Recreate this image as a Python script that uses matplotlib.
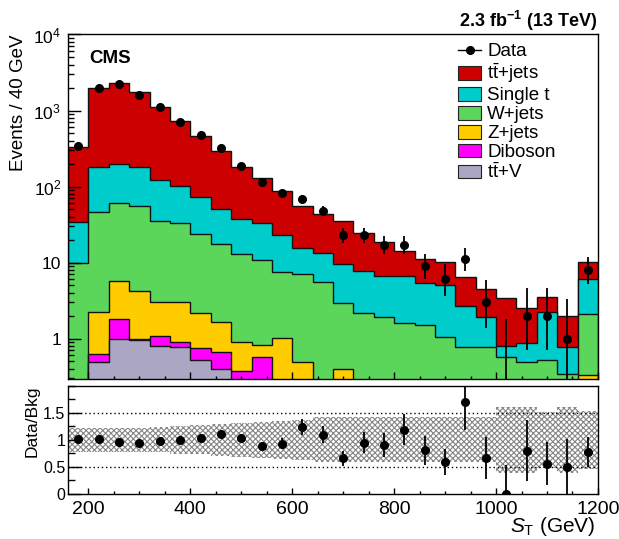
import numpy as np
import matplotlib
matplotlib.use('Agg')
import matplotlib.pyplot as plt
from matplotlib.patches import Patch
from matplotlib.lines import Line2D
from matplotlib.ticker import FixedLocator, MultipleLocator, LogLocator, NullFormatter, FixedFormatter

plt.rcParams['font.family'] = ['Liberation Sans', 'DejaVu Sans']
plt.rcParams['mathtext.fontset'] = 'custom'
plt.rcParams['mathtext.rm'] = 'Liberation Sans'
plt.rcParams['mathtext.it'] = 'Liberation Sans:italic'
plt.rcParams['mathtext.bf'] = 'Liberation Sans:bold'
plt.rcParams['hatch.linewidth'] = 0.8

# S_T bins, 40 GeV wide from 160 to 1200
edges = np.arange(160, 1201, 40)

# expected events per process
ttv = [0.10, 0.49, 0.98, 0.97, 0.80, 0.785, 0.52, 0.40, 0.20, 0.18, 0.14, 0.12, 0.10,
       0.09, 0.07, 0.06, 0.05, 0.05, 0.04, 0.03, 0.03, 0.02, 0.02, 0.02, 0.01, 0.02]
diboson = [0.04, 0.13, 0.82, 0.03, 0.29, 0.105, 0.24, 0.27, 0.17, 0.39, 0.04, 0.04, 0.03,
           0.03, 0.02, 0.02, 0.02, 0.02, 0.01, 0.01, 0.01, 0.01, 0.01, 0.01, 0.01, 0.01]
zjets = [0.10, 1.65, 3.94, 3.24, 1.92, 2.12, 1.40, 1.00, 0.54, 0.26, 0.85, 0.33, 0.10,
         0.28, 0.10, 0.10, 0.10, 0.10, 0.10, 0.10, 0.10, 0.10, 0.10, 0.10, 0.10, 0.30]
wjets = [9.6, 43.7, 55.9, 52.0, 32.7, 30.6, 21.7, 15.9, 12.2, 10.1, 6.6, 6.57, 5.29,
         2.52, 2.01, 1.77, 1.43, 1.36, 0.91, 0.63, 0.63, 0.45, 0.36, 0.39, 0.22, 1.80]
singlet = [24.2, 134, 137, 124, 86, 69, 49, 32.4, 24.1, 22.6, 15.1, 8.4, 8.0,
           6.8, 5.65, 4.73, 4.98, 3.83, 3.95, 1.9, 1.13, 0.21, 0.38, 1.75, 0.44, 3.87]
ttjets = [302, 1785, 2091, 1550, 1006, 622, 393, 242, 146, 98, 66, 39.8, 30.3,
          25.1, 16.4, 12.0, 7.8, 5.84, 5.2, 3.83, 2.59, 2.61, 1.63, 1.30, 1.20, 4.3]

data = [343, 1980, 2200, 1620, 1100, 717, 483, 324, 188, 116, 82, 68, 48,
        23, 23, 17, 17, 9, 6, 11, 3, 0, 2, 2, 1, 8]

# relative background uncertainty (hatched band in the ratio)
bkg_unc = [0.22, 0.22, 0.22, 0.22, 0.23, 0.255, 0.27, 0.29, 0.31, 0.335, 0.355, 0.375, 0.415,
           0.415, 0.415, 0.415, 0.415, 0.415, 0.415, 0.415, 0.415, 0.615, 0.615, 0.52, 0.605, 0.53]

labels = ['$\\mathrm{t}\\bar{\\mathrm{t}}$+V', 'Diboson', 'Z+jets', 'W+jets', 'Single t',
          '$\\mathrm{t}\\bar{\\mathrm{t}}$+jets']
colors = ['#aaa6c4', '#ff00ff', '#ffcc00', '#5cd65a', '#00cccc', '#cc0000']

stack = np.array([ttv, diboson, zjets, wjets, singlet, ttjets])
cum = np.cumsum(stack, axis=0)
total = cum[-1]
data = np.array(data, dtype=float)
centers = 0.5 * (edges[:-1] + edges[1:])

# Garwood-like Poisson intervals (Wilson-Hilferty approximation)
n = data
err_lo = np.where(n > 0, n - n * (1 - 1 / (9 * np.maximum(n, 1)) - 1 / (3 * np.sqrt(np.maximum(n, 1)))) ** 3, 0)
err_hi = (n + 1) * (1 - 1 / (9 * (n + 1)) + 1 / (3 * np.sqrt(n + 1))) ** 3 - n

fig = plt.figure(figsize=(6.19, 5.39), dpi=100)
ax = fig.add_axes([0.110, 0.297, 0.856, 0.639])
rax = fig.add_axes([0.110, 0.0835, 0.856, 0.201])

# stacked histogram, drawn from the top layer down
for i in reversed(range(len(stack))):
    ax.stairs(cum[i], edges, baseline=1e-3, fill=True, facecolor=colors[i],
              edgecolor='#111111', linewidth=1.0)

mask = data > 0
ax.errorbar(centers[mask], data[mask], yerr=[err_lo[mask], err_hi[mask]], fmt='o',
            color='k', ms=5.5, elinewidth=1.3, capsize=0, zorder=5)
# empty bin: only the upper error bar
ax.vlines(centers[~mask], 1e-3, err_hi[~mask], color='k', lw=1.3, zorder=5)

ax.set_yscale('log')
ax.set_xlim(160, 1200)
ax.set_ylim(0.295, 1e4)
ax.yaxis.set_major_locator(FixedLocator([1, 10, 100, 1000, 10000]))
ax.yaxis.set_major_formatter(FixedFormatter(['1', '10', '$10^{2}$', '$10^{3}$', '$10^{4}$']))
ax.yaxis.set_minor_locator(LogLocator(base=10, subs=np.arange(2, 10)))
ax.yaxis.set_minor_formatter(NullFormatter())
ax.xaxis.set_major_locator(MultipleLocator(200))
ax.xaxis.set_minor_locator(MultipleLocator(50))
ax.tick_params(axis='x', labelbottom=False)
ax.tick_params(axis='y', which='major', direction='in', length=9.5, width=1, labelsize=12.5, pad=5)
ax.tick_params(axis='y', which='minor', direction='in', length=4.5, width=1)
ax.tick_params(axis='x', which='major', direction='in', length=5, width=1)
ax.tick_params(axis='x', which='minor', direction='in', length=2.5, width=1)
for s in ax.spines.values():
    s.set_linewidth(1.0)

# legend
handles = [Line2D([], [], color='k', marker='o', ms=5.5, lw=1.0)]
names = ['Data']
for i in reversed(range(len(stack))):
    handles.append(Patch(facecolor=colors[i], edgecolor='#222222', linewidth=0.8))
    names.append(labels[i])
ax.legend(handles, names, loc='upper left', bbox_to_anchor=(458 / 619, 1 - 43 / 539),
          bbox_transform=fig.transFigure, frameon=False, fontsize=13.5,
          handlelength=1.25, handleheight=0.75, handletextpad=0.3, labelspacing=0.08,
          borderpad=0, borderaxespad=0)

ax.text(0.04, 0.93, 'CMS', transform=ax.transAxes, fontsize=13.5, fontweight='bold',
        ha='left', va='center')
fig.text(597 / 619, 1 - 21 / 539, '2.3 fb$^{\\mathbf{-1}}$ (13 TeV)', fontsize=13,
         fontweight='bold', ha='right', va='center')
fig.text(19 / 619, 1 - 103 / 539, 'Events / 40 GeV', rotation=90, fontsize=13.5,
         ha='center', va='center')

# ratio panel
ratio = data / total
r_lo = np.sqrt(data) / total
r_hi = np.where(data > 0, np.sqrt(data), err_hi) / total
unc = np.array(bkg_unc)
rax.bar(centers, 2 * unc, bottom=1 - unc, width=40, facecolor='none',
        edgecolor='#858585', hatch='xxxxxx', linewidth=0)
rax.axhline(0.5, color='k', ls=(0, (1, 2)), lw=1.0)
rax.axhline(1.5, color='k', ls=(0, (1, 2)), lw=1.0)
rax.errorbar(centers, ratio, yerr=[r_lo, r_hi], fmt='o', color='k', ms=5.5,
             elinewidth=1.3, capsize=0, zorder=5)
rax.set_xlim(160, 1200)
rax.set_ylim(0, 2)
rax.yaxis.set_major_locator(FixedLocator([0, 0.5, 1, 1.5]))
rax.yaxis.set_major_formatter(FixedFormatter(['0', '0.5', '1', '1.5']))
rax.yaxis.set_minor_locator(MultipleLocator(0.25))
rax.xaxis.set_major_locator(MultipleLocator(200))
rax.xaxis.set_minor_locator(MultipleLocator(50))
rax.tick_params(axis='y', which='major', direction='in', length=9.5, width=1, labelsize=11.5, pad=2)
rax.tick_params(axis='y', which='minor', direction='in', length=5, width=1)
rax.tick_params(axis='x', which='major', direction='in', length=4, width=1, labelsize=14, pad=5)
rax.tick_params(axis='x', which='minor', direction='in', length=2, width=1)
for s in rax.spines.values():
    s.set_linewidth(1.0)
fig.text(32 / 619, 1 - 421 / 539, 'Data/Bkg', rotation=90, fontsize=12.5,
         ha='center', va='center')
fig.text(596 / 619, 1 - 526 / 539, '$S_{\\mathrm{T}}$ (GeV)', fontsize=15,
         ha='right', va='center')

fig.savefig('out.png', dpi=100)
